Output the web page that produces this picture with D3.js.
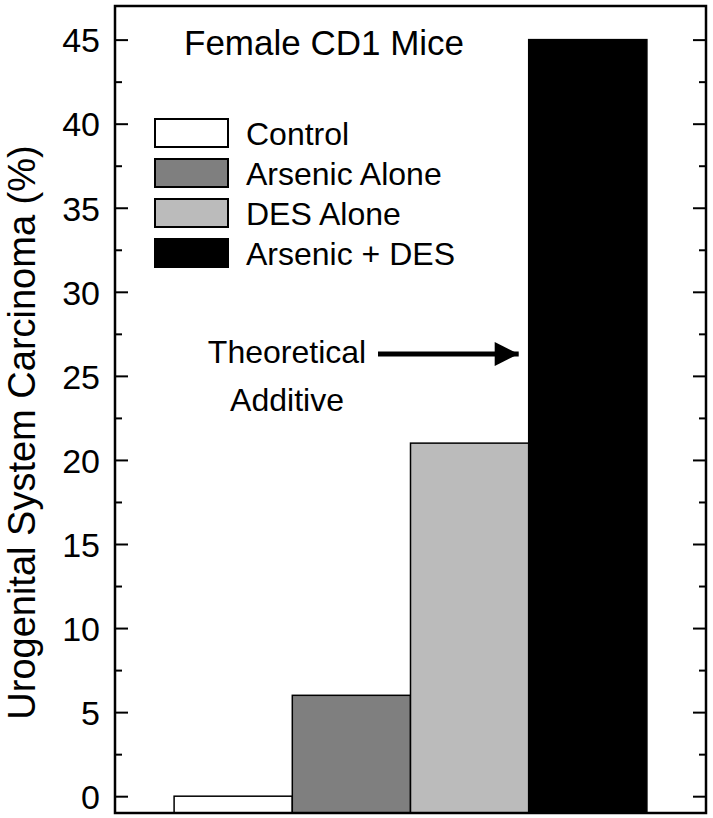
<!DOCTYPE html>
<html lang="en">
<head>
    <meta charset="UTF-8">
    <title>Female CD1 Mice</title>
    <script src="https://d3js.org/d3.v7.min.js"></script>
</head>
<style>
body {
margin: 0;
background: #fff;
font-family: Arial, 'Liberation Sans', sans-serif;
}
.tick text {
font-family: Arial, 'Liberation Sans', sans-serif;
font-size: 34px;
fill: #000;
}
.tick line {
stroke: #000;
stroke-width: 2px;
}
</style>
<body>
    <svg width="713" height="818"></svg>
<script>
    // values
    var groups = ["Control", "Arsenic Alone", "DES Alone", "Arsenic + DES"];
    var values = [0, 6, 21, 45];
    var majorTicks = [0, 5, 10, 15, 20, 25, 30, 35, 40, 45];
    var minorTicks = [2.5, 7.5, 12.5, 17.5, 22.5, 27.5, 32.5, 37.5, 42.5];
    var title = "Female CD1 Mice";
    var yLabel = "Urogenital System Carcinoma (%)";
    var note = ["Theoretical", "Additive"];
    var noteValue = 26.3;

    // plot frame (window.top is reserved, so prefixed names)
    var svg = d3.select("svg"),
        fLeft = 115, fRight = 706, fTop = 6, fBottom = 813;

    var x = d3.scaleBand()
        .domain(groups)
        .range([fLeft, fRight])
        .paddingInner(0)
        .paddingOuter(0.5);

    var y = d3.scaleLinear()
        .domain([-1, 47])
        .range([fBottom, fTop]);

    var color = d3.scaleOrdinal()
        .domain(groups)
        .range(["#ffffff", "#7f7f7f", "#bbbbbb", "#000000"]);

    // bars
    svg.append("g")
        .selectAll("rect")
        .data(groups)
        .enter()
        .append("rect")
        .attr("x", function(d) { return x(d); })
        .attr("width", x.bandwidth())
        .attr("y", function(d, i) { return y(values[i]); })
        .attr("height", function(d, i) { return y(-1) - y(values[i]); })
        .style("fill", function(d) { return color(d); })
        .style("stroke", "#000")
        .style("stroke-width", 1.5);

    // left axis, ticks pointing inside
    var gl = svg.append("g")
        .attr("transform", "translate(" + fLeft + ",0)")
        .call(d3.axisLeft(y).tickValues(majorTicks).tickSize(-13).tickPadding(15).tickFormat(d3.format("d")));
    gl.select(".domain").remove();
    gl.selectAll(".tick text").attr("dy", "0.36em");

    var glm = svg.append("g")
        .attr("transform", "translate(" + fLeft + ",0)")
        .call(d3.axisLeft(y).tickValues(minorTicks).tickSize(-7).tickFormat(""));
    glm.select(".domain").remove();

    // right axis, no labels
    var gr = svg.append("g")
        .attr("transform", "translate(" + fRight + ",0)")
        .call(d3.axisRight(y).tickValues(majorTicks).tickSize(-13).tickFormat(""));
    gr.select(".domain").remove();

    var grm = svg.append("g")
        .attr("transform", "translate(" + fRight + ",0)")
        .call(d3.axisRight(y).tickValues(minorTicks).tickSize(-7).tickFormat(""));
    grm.select(".domain").remove();

    // frame
    svg.append("rect")
        .attr("x", fLeft)
        .attr("y", fTop)
        .attr("width", fRight - fLeft)
        .attr("height", fBottom - fTop)
        .style("fill", "none")
        .style("stroke", "#000")
        .style("stroke-width", 2.5);

    // axis title
    svg.append("text")
        .attr("transform", "translate(35," + ((fTop + fBottom) / 2 + 23) + ")rotate(-90)")
        .attr("text-anchor", "middle")
        .style("font-size", "38px")
        .text(yLabel);

    // chart title
    svg.append("text")
        .attr("x", 184)
        .attr("y", 55)
        .style("font-size", "35px")
        .text(title);

    // legend
    var legend = svg.append("g")
        .selectAll("g")
        .data(groups)
        .enter()
        .append("g")
        .attr("transform", function(d, i) { return "translate(155," + (119 + i * 40) + ")"; });

    legend.append("rect")
        .attr("width", 73)
        .attr("height", 28)
        .style("fill", function(d) { return color(d); })
        .style("stroke", "#000")
        .style("stroke-width", 2);

    legend.append("text")
        .attr("x", 91)
        .attr("y", 14)
        .attr("dy", "0.36em")
        .style("font-size", "32px")
        .text(function(d) { return d; });

    // theoretical additive note + arrow
    svg.append("defs")
        .append("marker")
        .attr("id", "head")
        .attr("viewBox", "0 0 10 10")
        .attr("refX", 10)
        .attr("refY", 5)
        .attr("markerUnits", "userSpaceOnUse")
        .attr("markerWidth", 32)
        .attr("markerHeight", 24)
        .attr("orient", "auto")
        .append("path")
        .attr("d", "M0,0L10,5L0,10z")
        .style("fill", "#000");

    var ny = y(noteValue);

    svg.append("text")
        .attr("x", 287)
        .attr("y", ny + 9)
        .attr("text-anchor", "middle")
        .style("font-size", "32px")
        .selectAll("tspan")
        .data(note)
        .enter()
        .append("tspan")
        .attr("x", 287)
        .attr("dy", function(d, i) { return i ? "1.5em" : 0; })
        .text(function(d) { return d; });

    svg.append("line")
        .attr("x1", 378)
        .attr("x2", x(groups[3]) - 10)
        .attr("y1", ny)
        .attr("y2", ny)
        .style("stroke", "#000")
        .style("stroke-width", 5)
        .attr("marker-end", "url(#head)");
</script>
</body>
</html>
